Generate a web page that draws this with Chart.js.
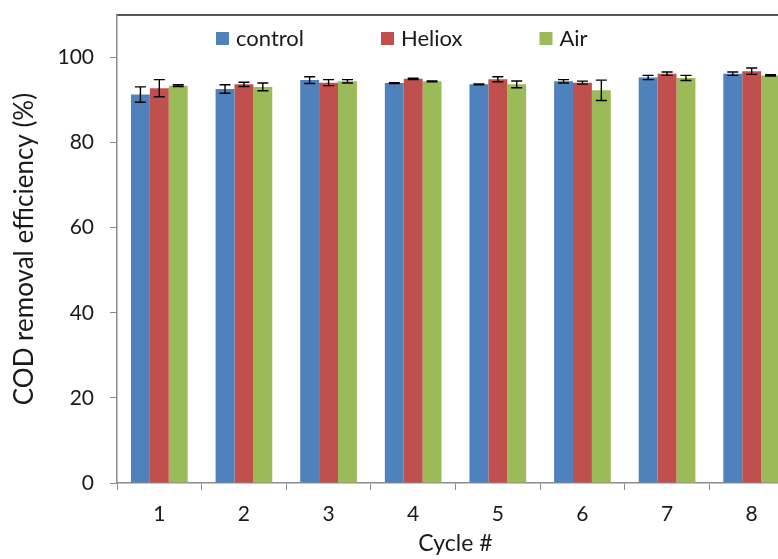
<!DOCTYPE html>
<html>
<head>
<meta charset="utf-8">
<script src="https://cdn.jsdelivr.net/npm/chart.js@4.4.1/dist/chart.umd.min.js"></script>
<style>
  html, body { margin: 0; padding: 0; background: #ffffff; overflow: hidden; }
  #wrap { position: relative; width: 800px; height: 559px; }
</style>
</head>
<body>
<div id="wrap"><canvas id="chart"></canvas></div>
<script>
// Cycle labels
const cycles = ['1', '2', '3', '4', '5', '6', '7', '8'];

// COD removal efficiency (%) per cycle, with standard deviations
const controlValues = [91.3, 92.6, 94.7, 94.0, 93.7, 94.4, 95.3, 96.2];
const controlErrors = [1.8, 1.0, 0.8, 0.1, 0.1, 0.4, 0.5, 0.4];
const helioxValues  = [92.8, 93.7, 94.1, 95.0, 94.9, 94.1, 96.2, 96.8];
const helioxErrors  = [2.0, 0.5, 0.7, 0.15, 0.6, 0.35, 0.4, 0.75];
const airValues     = [93.4, 93.1, 94.4, 94.4, 93.7, 92.3, 95.2, 95.8];
const airErrors     = [0.2, 0.9, 0.4, 0.1, 0.8, 2.4, 0.6, 0.15];

// Y axis ticks that carry labels
const yTickValues = [0, 20, 40, 60, 80, 100];

const FONT = 'Lato';
const TEXT = '#1a1a1a';
const AXIS = '#8c8c8c';

// Draws vertical error bars with caps, using each bar's own position
const errorBars = {
  id: 'errorBars',
  afterDatasetsDraw(chart) {
    const ctx = chart.ctx;
    const y = chart.scales.y;
    ctx.save();
    ctx.strokeStyle = '#000000';
    ctx.lineWidth = 1.4;
    chart.data.datasets.forEach((ds, i) => {
      const meta = chart.getDatasetMeta(i);
      meta.data.forEach((bar, j) => {
        const v = ds.data[j], e = ds.errors[j];
        const yTop = y.getPixelForValue(v + e);
        const yBot = y.getPixelForValue(v - e);
        const half = 5.5;
        ctx.beginPath();
        ctx.moveTo(bar.x, yTop); ctx.lineTo(bar.x, yBot);
        ctx.moveTo(bar.x - half, yTop); ctx.lineTo(bar.x + half, yTop);
        ctx.moveTo(bar.x - half, yBot); ctx.lineTo(bar.x + half, yBot);
        ctx.stroke();
      });
    });
    ctx.restore();
  }
};

// One-row legend drawn inside the plot, under the top frame line
const insideLegend = {
  id: 'insideLegend',
  afterDraw(chart, args, opts) {
    const ctx = chart.ctx, ca = chart.chartArea;
    ctx.save();
    ctx.font = `${opts.fontSize}px ${FONT}`;
    ctx.textBaseline = 'alphabetic';
    ctx.textAlign = 'left';
    let x = ca.left + opts.offsetX;
    const boxTop = ca.top + opts.offsetY;
    chart.data.datasets.forEach(ds => {
      ctx.fillStyle = ds.backgroundColor;
      ctx.fillRect(x, boxTop, opts.box, opts.box);
      const tx = x + opts.box + opts.boxGap;
      ctx.fillStyle = TEXT;
      ctx.fillText(ds.label, tx, boxTop + opts.box + 1);
      x = tx + ctx.measureText(ds.label).width + opts.itemGap;
    });
    ctx.restore();
  }
};

new Chart(document.getElementById('chart'), {
  type: 'bar',
  data: {
    labels: cycles,
    datasets: [
      { label: 'control', data: controlValues, errors: controlErrors, backgroundColor: '#4f81bd' },
      { label: 'Heliox',  data: helioxValues,  errors: helioxErrors,  backgroundColor: '#c0504d' },
      { label: 'Air',     data: airValues,     errors: airErrors,     backgroundColor: '#9bbb59' }
    ]
  },
  plugins: [errorBars, insideLegend],
  options: {
    responsive: true,
    maintainAspectRatio: false,
    animation: false,
    datasets: { bar: { categoryPercentage: 0.67, barPercentage: 1.0, borderWidth: 0 } },
    layout: { padding: { left: 0, right: 6, top: 0, bottom: 0 } },
    plugins: {
      tooltip: { enabled: false },
      legend: { display: false },
      insideLegend: { fontSize: 22, box: 13, boxGap: 7, itemGap: 77, offsetX: 99, offsetY: 17 }
    },
    scales: {
      x: {
        position: 'bottom',
        grid: { display: true, drawOnChartArea: false, drawTicks: true, tickLength: 7, offset: true, color: AXIS },
        border: { display: true, color: AXIS, width: 1.5 },
        ticks: { color: TEXT, font: { family: FONT, size: 21 }, padding: 12, maxRotation: 0 },
        title: { display: true, text: 'Cycle #', color: TEXT, font: { family: FONT, size: 23 }, padding: { top: 0, bottom: 2 } },
        afterFit(scale) { scale.height = 76; }
      },
      xTop: {
        type: 'category',
        position: 'top',
        grid: { display: false },
        ticks: { display: false },
        border: { display: true, color: '#555555', width: 2 },
        afterFit(scale) { scale.height = 15; }
      },
      y: {
        min: 0,
        max: 110,
        afterBuildTicks(scale) { scale.ticks = yTickValues.map(v => ({ value: v })); },
        grid: { display: true, drawOnChartArea: false, drawTicks: true, tickLength: 7, color: AXIS },
        border: { display: true, color: AXIS, width: 1.5 },
        ticks: { color: TEXT, font: { family: FONT, size: 21 }, padding: 16 },
        title: { display: true, text: 'COD removal efficiency (%)', color: TEXT, font: { family: FONT, size: 26 }, padding: { top: 9, bottom: 0 } },
        afterFit(scale) {
          scale.width = 117;
          scale.paddingTop = 0;
          scale.paddingBottom = 0;
        }
      }
    }
  }
});
</script>
</body>
</html>
